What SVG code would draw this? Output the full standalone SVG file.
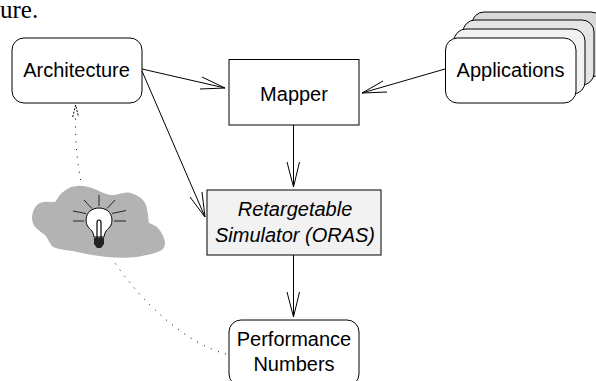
<svg xmlns="http://www.w3.org/2000/svg" width="596" height="381" viewBox="0 0 596 381">
<style>
.n{stroke:#000;stroke-width:1;fill:#fff}
.t{font-family:"Liberation Sans",Arial,sans-serif;font-size:20px;text-anchor:middle;fill:#000}
.c{fill:none;stroke:#000;stroke-width:1}
.d{fill:none;stroke:#000;stroke-width:1;stroke-dasharray:1 6.600}
</style>
<text x="0" y="18" style="font-family:'Liberation Serif',serif;font-size:25px">ure.</text>
<g id="cloud">
<path d="M32 217C33 209 36 205 40 203C45 201 50 202 55 202C58 198 60 194 63 192C68 188 72 186 77 186C83 185 87 187 92 188C98 190 104 194 110 195C117 196 124 191 130 193C138 195 142 198 145 203C148 209 148 217 149 223C152 224 154 225 157 227C161 231 164 237 165 242C165 246 164 248 162 250C155 254 146 255 137 257C127 258 117 258 107 257C97 256 87 254 77 252C68 250 60 250 53 247C49 243 48 238 45 235C41 232 38 230 35 227C33 224 32 221 32 217Z" fill="#b3b3b3"/>
</g>
<g id="bulb">
<path d="M94 237C93 231 91 230 89 228C84 223 86 214 90 211C95 207 103 207 108 211C112 214 114 223 109 228C107 230 105 231 104 237Z" fill="#fff" stroke="#000" stroke-width="1"/>
<path d="M97 238V223C97 219 101 219 101 223V238" fill="none" stroke="#000" stroke-width="1.200"/>
<path d="M94 238H104V244L101 248H97L94 244Z" fill="#222"/>
<path d="M73 221H84M114 221H126M73 211L86 213.500M112 213.500L126 210.500M84 200L92 208.500M115 200L107 208.500M99 195V206" stroke="#000" stroke-width="0.800" fill="none"/>
</g>
<g id="applications-stack">
<rect x="472" y="12" width="131" height="65" rx="12" fill="#d9d9d9" stroke="#000"/>
<rect x="463" y="20" width="131" height="65" rx="12" fill="#e5e5e5" stroke="#000"/>
<rect x="454" y="29" width="131" height="65" rx="12" fill="#f2f2f2" stroke="#000"/>
</g>
<g id="applications">
<rect class="n" x="445.500" y="38" width="130.500" height="65" rx="12"/>
<text class="t" x="510.500" y="77">Applications</text>
</g>
<g id="architecture">
<rect class="n" x="12" y="38" width="130" height="65" rx="12"/>
<text class="t" x="76.500" y="77">Architecture</text>
</g>
<g id="mapper">
<rect class="n" x="229" y="59.500" width="130" height="65.500"/>
<text class="t" x="294" y="101">Mapper</text>
</g>
<g id="simulator">
<rect x="207" y="190" width="174" height="65" fill="#f2f2f2" stroke="#000"/>
<text class="t" x="295" y="216" font-style="italic">Retargetable</text>
<text class="t" x="295" y="242" font-style="italic">Simulator (ORAS)</text>
</g>
<g id="performance">
<rect class="n" x="229" y="320" width="130" height="66" rx="12"/>
<text class="t" x="294" y="346">Performance</text>
<text class="t" x="294" y="371">Numbers</text>
</g>
<g id="connectors">
<path class="c" d="M142 69L225 88M202 77L225 88L200 89"/>
<path class="c" d="M445 69L362 93M383 81L362 93L387 92"/>
<path class="c" d="M142 71L205 217M190 197L205 217L202 192"/>
<path class="c" d="M293.500 125V187M287 162L293.500 187L299.500 162"/>
<path class="c" d="M293.500 255V317M287 292L293.500 317L299.500 292"/>
<path class="d" d="M226 354C188 344 143 305 113 260"/>
<path class="d" d="M80.500 180C78 165 75 145 75.500 118"/>
<path d="M72.700 117L75.700 105L78.500 117" fill="none" stroke="#000" stroke-width="1" stroke-dasharray="2 1.500"/>
</g>
</svg>
